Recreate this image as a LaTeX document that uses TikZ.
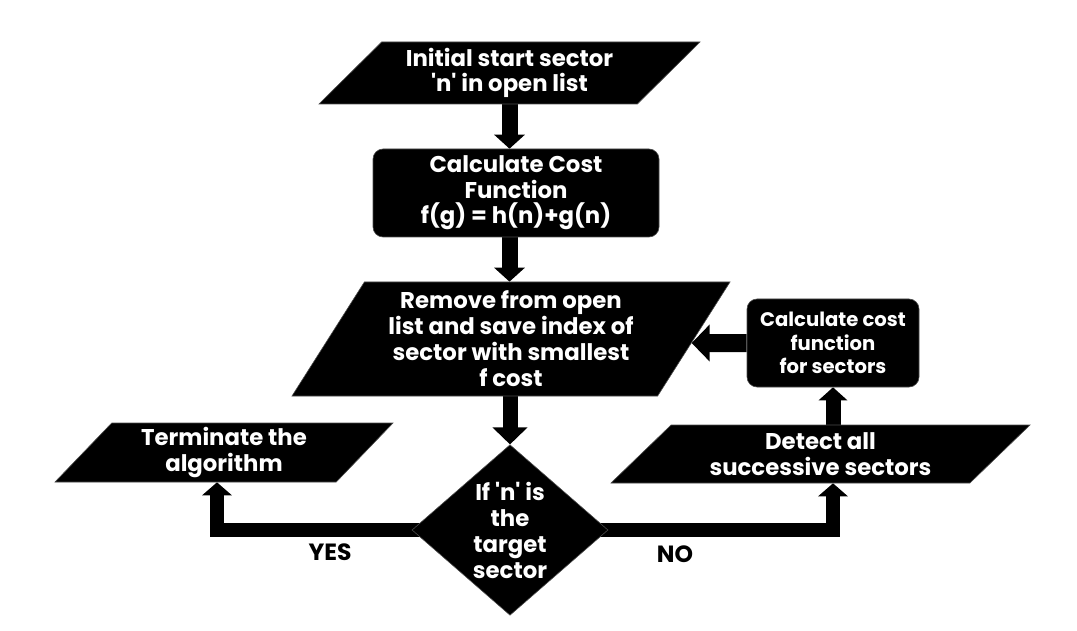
\documentclass[tikz,border=0pt]{standalone}
\usepackage{fontspec}
\setmainfont{Poppins}
\usetikzlibrary{shapes.geometric,arrows.meta,backgrounds}
\begin{document}
\begin{tikzpicture}[x=1pt,y=-1pt,
  shp/.style={fill=black, draw=black!70, line width=0.6pt, text=white,
    font=\fontsize{22.8}{25.5}\selectfont\bfseries, align=center, inner sep=0pt},
  para/.style 2 args={shp, trapezium, trapezium stretches body,
    trapezium left angle=#1, trapezium right angle=#2},
  rbox/.style={shp, rounded corners=10pt},
  lbl/.style={font=\fontsize{23.5}{25}\selectfont\bfseries, text=black},
  arr/.style args={#1/#2/#3}{draw=black, line width=#1pt, line join=miter,
    -{Triangle[width=#2pt,length=#3pt]}}]
\useasboundingbox (0,0) rectangle (1077,631);

\node[para={38.5}{141.5}, minimum width=381pt, minimum height=62pt] (p1) at (509.5,73)
  {Initial start sector\\\textquotesingle n\textquotesingle{} in open list};
\node[rbox, minimum width=286pt, minimum height=88pt] (c2) at (516,193)
  {Calculate Cost\\Function\\f(g) = h(n)+g(n)};
\node[para={53}{127}, minimum width=438pt, minimum height=114pt, font=\fontsize{22.8}{26}\selectfont\bfseries] (p3) at (511,339)
  {Remove from open\\list and save index of\\sector with smallest\\f cost};
\node[rbox, minimum width=172pt, minimum height=88pt, font=\fontsize{19.6}{23.5}\selectfont\bfseries] (c4) at (833,343)
  {Calculate cost\\function\\for sectors};
\node[para={35.3}{144.7}, minimum width=419pt, minimum height=58pt] (p5) at (820.5,454)
  {Detect all\\successive sectors};
\node[para={41.4}{138.6}, minimum width=338pt, minimum height=59pt] (p6) at (224,452.5)
  {Terminate the\\algorithm};
\node[shp, diamond, minimum width=196pt, minimum height=166pt, font=\fontsize{22.8}{26}\selectfont\bfseries] (d) at (510,530)
  {If \textquotesingle n\textquotesingle{} is\\the\\target\\sector};
\node[lbl] (yes) at (330,552) {YES};
\node[lbl] (no) at (675,554) {NO};

\begin{pgfonlayer}{background}
\draw[arr=16/30/14] (p1.center |- p1.south) -- (p1.center |- c2.north);
\draw[arr=16/30/14] (p1.center |- c2.south) -- (p1.center |- p3.north);
\draw[arr=15/34/17] (d.north |- p3.south) -- (d.north);
\draw[arr=14/29/13] (d.center) -| ([xshift=-7pt]p6.center |- p6.south);
\draw[arr=14/29/13] (d.center) -| (c4.center |- p5.south);
\draw[arr=15/28/13] (c4.center |- p5.north) -- (c4.south);
\draw[arr=18/36/18] (c4.west) -- (intersection of p3.top right corner--p3.bottom right corner and c4.west--c4.east);
\end{pgfonlayer}
\end{tikzpicture}
\end{document}
